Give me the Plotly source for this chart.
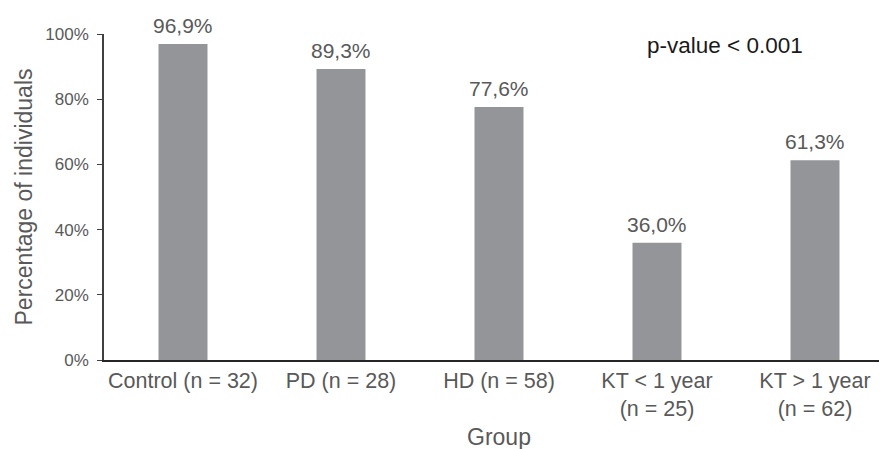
import plotly.graph_objects as go

categories = ["Control (n = 32)", "PD (n = 28)", "HD (n = 58)",
              "KT < 1 year<br>(n = 25)", "KT > 1 year<br>(n = 62)"]
values = [96.9, 89.3, 77.6, 36.0, 61.3]
y_ticks = [0, 20, 40, 60, 80, 100]
y_tick_labels = ["0%", "20%", "40%", "60%", "80%", "100%"]

labels = [f"{v:.1f}%".replace(".", ",") for v in values]

FONT = "Liberation Sans, Arial"
GREY = "#595959"

fig = go.Figure()
fig.add_trace(go.Bar(
    x=categories, y=values,
    marker=dict(color="#939598", line=dict(width=0)),
    width=0.31, cliponaxis=False, hoverinfo="x+y",
))

value_annotations = [
    dict(x=c, y=v, text=t, xref="x", yref="y", showarrow=False,
         xanchor="center", yanchor="bottom", yshift=5,
         font=dict(size=21, color=GREY, family=FONT))
    for c, v, t in zip(categories, values, labels)
]

fig.update_layout(
    width=887, height=449,
    margin=dict(l=96, r=1, t=26, b=97),
    plot_bgcolor="white", paper_bgcolor="white",
    font=dict(family=FONT, color=GREY),
    showlegend=False,
    xaxis=dict(
        showline=True, linecolor="#262626", linewidth=1.5,
        tickfont=dict(size=21.5, color=GREY),
        ticks="", showgrid=False, automargin=False,
        title=dict(text="Group", font=dict(size=23, color=GREY), standoff=9),
    ),
    yaxis=dict(
        range=[0, 100], tickvals=y_ticks, ticktext=y_tick_labels,
        showline=True, linecolor="#404040", linewidth=1.5,
        ticks="outside", ticklen=5, tickcolor="#404040",
        tickfont=dict(size=17, color=GREY), ticklabelstandoff=5,
        showgrid=False, zeroline=False, automargin=False,
        title=dict(text="Percentage of individuals", font=dict(size=23, color=GREY), standoff=6),
    ),
    annotations=value_annotations + [dict(
        text="p-value < 0.001", xref="paper", yref="paper",
        x=0.786, y=0.966, xanchor="center", yanchor="middle", showarrow=False,
        font=dict(size=22.5, color="#1a1a1a", family=FONT),
    )],
)

fig.write_html("out.html")
